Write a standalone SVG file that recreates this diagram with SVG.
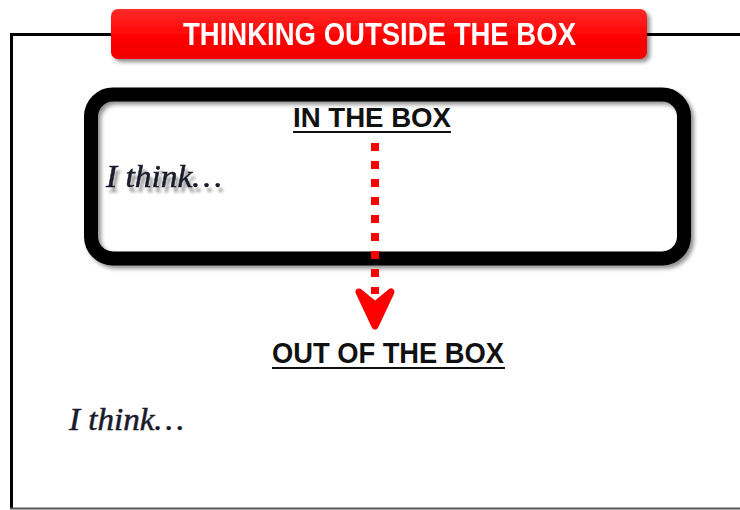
<svg xmlns="http://www.w3.org/2000/svg" width="740" height="510" viewBox="0 0 740 510">
  <defs>
    <filter id="boxShadow" x="-10%" y="-10%" width="120%" height="130%">
      <feGaussianBlur in="SourceAlpha" stdDeviation="2"/>
      <feOffset dx="3" dy="3" result="b"/>
      <feComponentTransfer in="b" result="s"><feFuncA type="linear" slope="0.45"/></feComponentTransfer>
      <feMerge><feMergeNode in="s"/><feMergeNode in="SourceGraphic"/></feMerge>
    </filter>
    <filter id="textShadow" x="-10%" y="-20%" width="130%" height="160%">
      <feGaussianBlur in="SourceAlpha" stdDeviation="1.8"/>
      <feOffset dx="3" dy="5" result="b"/>
      <feComponentTransfer in="b" result="s"><feFuncA type="linear" slope="0.4"/></feComponentTransfer>
      <feMerge><feMergeNode in="s"/><feMergeNode in="SourceGraphic"/></feMerge>
    </filter>
    <linearGradient id="redGrad" x1="0" y1="0" x2="0" y2="1">
      <stop offset="0" stop-color="#ff2a2a"/>
      <stop offset="0.5" stop-color="#ff0606"/>
      <stop offset="1" stop-color="#f20000"/>
    </linearGradient>
    <style>
      .head { font-family: "Liberation Sans", Arial, sans-serif; font-weight: bold; fill: #111; }
      .think { font-family: "Liberation Serif", "Times New Roman", serif; font-style: italic; fill: #1a1a2a; stroke: #1a1a2a; stroke-width: 0.5; font-size: 31px; }
      .uline { stroke: #111; stroke-width: 2; }
    </style>
  </defs>

  <rect width="740" height="510" fill="#ffffff"/>

  <g id="frame">
    <path d="M 740 34.5 L 11.5 34.5 L 11.5 508" fill="none" stroke="#000" stroke-width="3"/>
    <line x1="10" y1="508.5" x2="740" y2="508.5" stroke="#555" stroke-width="2"/>
  </g>

  <g id="title" filter="url(#boxShadow)">
    <rect x="111" y="9" width="536" height="50" rx="7" fill="url(#redGrad)"/>
    <text x="379.5" y="45" text-anchor="middle" class="head" style="fill:#fff" font-size="31" textLength="393" lengthAdjust="spacingAndGlyphs">THINKING OUTSIDE THE BOX</text>
  </g>

  <g id="in-the-box">
    <rect x="91" y="94.5" width="593" height="164" rx="22" fill="none" stroke="#000" stroke-width="14" filter="url(#boxShadow)"/>
    <text x="372" y="127" text-anchor="middle" class="head" font-size="28" textLength="158" lengthAdjust="spacingAndGlyphs">IN THE BOX</text>
    <line class="uline" x1="293" y1="132" x2="451" y2="132"/>
    <text x="106" y="187" class="think" filter="url(#textShadow)" textLength="116" lengthAdjust="spacingAndGlyphs">I think…</text>
  </g>

  <g id="connectors">
    <line x1="375" y1="143" x2="375" y2="294" stroke="#ff0000" stroke-width="8" stroke-dasharray="8 10"/>
    <polygon points="359,292 375,305 391,292 375,326" fill="#ff0000" stroke="#ff0000" stroke-width="7" stroke-linejoin="round"/>
  </g>

  <g id="out-of-the-box">
    <text x="388" y="363" text-anchor="middle" class="head" font-size="29" textLength="232" lengthAdjust="spacingAndGlyphs">OUT OF THE BOX</text>
    <line class="uline" x1="272" y1="368" x2="505" y2="368"/>
    <text x="69" y="430" class="think" textLength="115" lengthAdjust="spacingAndGlyphs">I think…</text>
  </g>
</svg>
